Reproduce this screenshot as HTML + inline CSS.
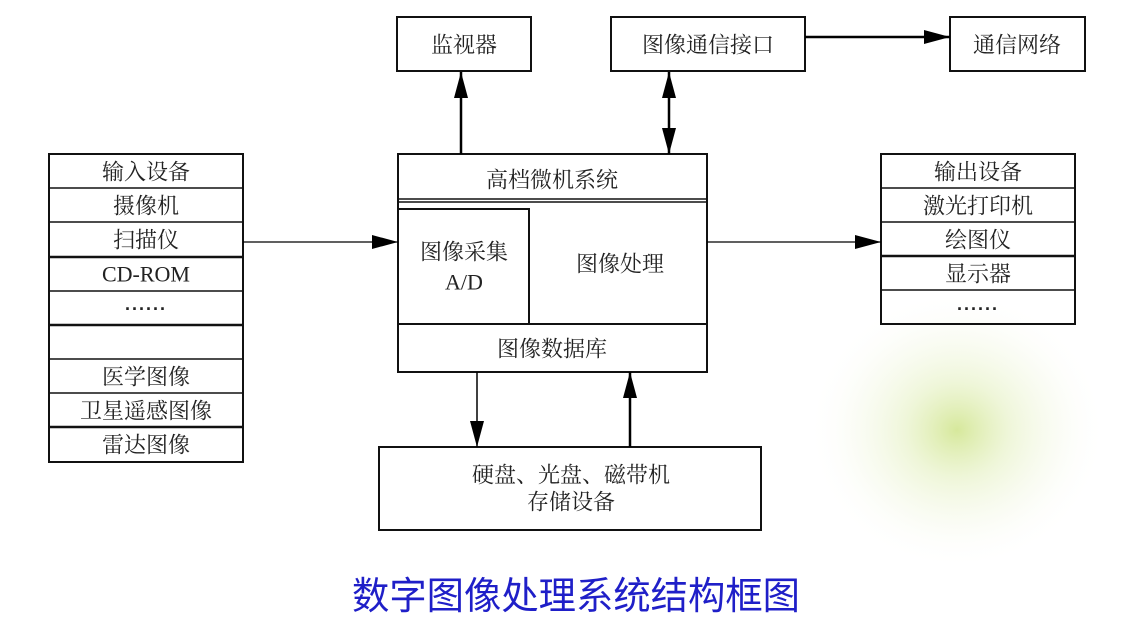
<!DOCTYPE html>
<html><head><meta charset="utf-8"><style>
html,body{margin:0;padding:0;background:#fff;width:1145px;height:618px;overflow:hidden}
svg{display:block}
text{font-family:"Liberation Serif","Noto Serif CJK SC",serif;font-size:22px;fill:#222;text-anchor:middle;dominant-baseline:central}
.d{font-family:"Liberation Sans",sans-serif;font-weight:bold;font-size:18px;letter-spacing:2px}
</style></head><body>
<svg width="1145" height="618" viewBox="0 0 1145 618" xmlns="http://www.w3.org/2000/svg">
<defs>
<radialGradient id="g" cx="0.5" cy="0.5" r="0.5">
<stop offset="0" stop-color="#cfe48a" stop-opacity="0.85"/>
<stop offset="0.35" stop-color="#e2efbb" stop-opacity="0.55"/>
<stop offset="0.7" stop-color="#f2f7e2" stop-opacity="0.3"/>
<stop offset="1" stop-color="#ffffff" stop-opacity="0"/>
</radialGradient>
<marker id="b" viewBox="0 0 26 14" markerWidth="26" markerHeight="14" refX="26" refY="7" orient="auto" markerUnits="userSpaceOnUse"><path d="M0,0 L26,7 L0,14 z" fill="#000"/></marker>
<marker id="bs" viewBox="0 0 26 14" markerWidth="26" markerHeight="14" refX="0" refY="7" orient="auto" markerUnits="userSpaceOnUse"><path d="M26,0 L0,7 L26,14 z" fill="#000"/></marker>
</defs>
<ellipse cx="957" cy="430" rx="150" ry="140" fill="url(#g)"/>
<g fill="none" stroke="#111" stroke-width="2">
<rect x="397" y="17" width="134" height="54"/>
<rect x="611" y="17" width="194" height="54"/>
<rect x="950" y="17" width="135" height="54"/>
<rect x="398" y="154" width="309" height="218"/>
<line x1="398" y1="199" x2="707" y2="199" stroke-width="1.5"/>
<line x1="398" y1="202" x2="707" y2="202" stroke-width="1.5"/>
<rect x="398" y="209" width="131" height="115"/>
<line x1="398" y1="324" x2="707" y2="324"/>
<rect x="49" y="154" width="194" height="308"/>
<line x1="49" y1="188" x2="243" y2="188" stroke-width="1.5"/>
<line x1="49" y1="222" x2="243" y2="222" stroke-width="1.5"/>
<line x1="49" y1="257" x2="243" y2="257" stroke-width="2.5"/>
<line x1="49" y1="291" x2="243" y2="291" stroke-width="1.5"/>
<line x1="49" y1="325" x2="243" y2="325" stroke-width="2.5"/>
<line x1="49" y1="359" x2="243" y2="359" stroke-width="1.5"/>
<line x1="49" y1="393" x2="243" y2="393" stroke-width="1.5"/>
<line x1="49" y1="427" x2="243" y2="427" stroke-width="2.5"/>
<rect x="881" y="154" width="194" height="170"/>
<line x1="881" y1="188" x2="1075" y2="188" stroke-width="1.5"/>
<line x1="881" y1="222" x2="1075" y2="222" stroke-width="1.5"/>
<line x1="881" y1="256" x2="1075" y2="256" stroke-width="2.5"/>
<line x1="881" y1="290" x2="1075" y2="290" stroke-width="1.5"/>
<rect x="379" y="447" width="382" height="83"/>
</g>
<g stroke="#000" fill="none">
<line x1="243" y1="242" x2="398" y2="242" stroke-width="1.3" marker-end="url(#b)"/>
<line x1="707" y1="242" x2="881" y2="242" stroke-width="1.3" marker-end="url(#b)"/>
<line x1="461" y1="154" x2="461" y2="72" stroke-width="2.5" marker-end="url(#b)"/>
<line x1="669" y1="72" x2="669" y2="154" stroke-width="2.5" marker-start="url(#bs)" marker-end="url(#b)"/>
<line x1="805" y1="37" x2="950" y2="37" stroke-width="2.5" marker-end="url(#b)"/>
<line x1="477" y1="372" x2="477" y2="447" stroke-width="1.5" marker-end="url(#b)"/>
<line x1="630" y1="447" x2="630" y2="372" stroke-width="2.5" marker-end="url(#b)"/>
</g>
<g transform="translate(0,2)">
<text x="464" y="43">监视器</text>
<text x="708" y="43">图像通信接口</text>
<text x="1017" y="43">通信网络</text>
<text x="552" y="178">高档微机系统</text>
<text x="464" y="250">图像采集</text>
<text x="464" y="280">A/D</text>
<text x="620" y="262">图像处理</text>
<text x="552" y="347">图像数据库</text>
<text x="146" y="170">输入设备</text>
<text x="146" y="204">摄像机</text>
<text x="146" y="238">扫描仪</text>
<text x="146" y="272" style="font-size:22px">CD-ROM</text>
<text x="146" y="302" class="d">......</text>
<text x="146" y="375">医学图像</text>
<text x="146" y="409">卫星遥感图像</text>
<text x="146" y="443">雷达图像</text>
<text x="978" y="170">输出设备</text>
<text x="978" y="204">激光打印机</text>
<text x="978" y="238">绘图仪</text>
<text x="978" y="272">显示器</text>
<text x="978" y="302" class="d">......</text>
<text x="571" y="473">硬盘、光盘、磁带机</text>
<text x="571" y="500">存储设备</text>
</g>
<text x="576" y="597" textLength="448" lengthAdjust="spacingAndGlyphs" style="font-family:'Liberation Sans','Noto Sans CJK SC',sans-serif;font-size:38px;fill:#1f1fc8">数字图像处理系统结构框图</text>
</svg>
</body></html>
